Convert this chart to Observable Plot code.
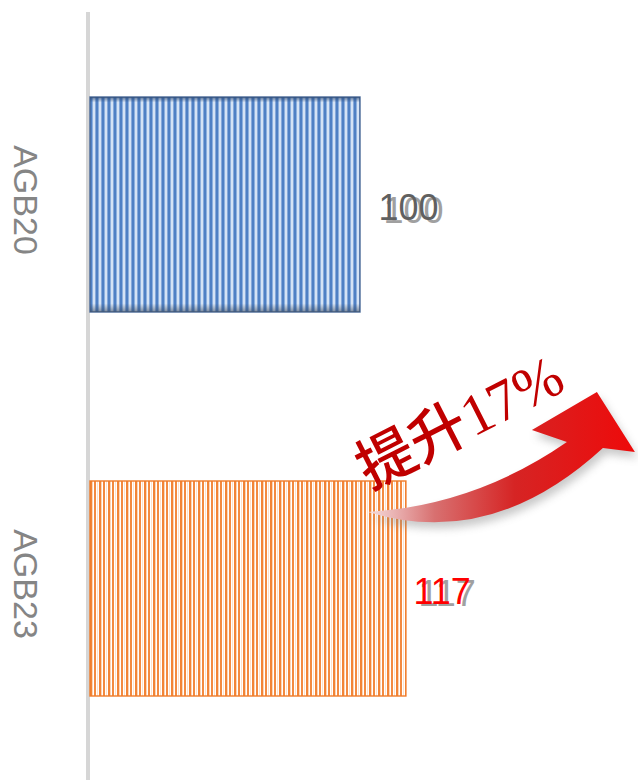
<!DOCTYPE html>
<html>
<head>
<meta charset="utf-8">
<script src="https://cdn.jsdelivr.net/npm/d3@7"></script>
<script src="https://cdn.jsdelivr.net/npm/@observablehq/plot@0.6"></script>
<style>
  html, body { margin: 0; padding: 0; background: #fff; }
  g[aria-label="shadow"] text { filter: blur(1.6px); }
  g[aria-label="arrow-shadow"] path { filter: blur(4px); }
</style>
</head>
<body>
<div id="chart"></div>
<script>
const categories = ["AGB20", "AGB23"];
const values = [100, 117];
const baseIndex = 0;
const growthPct = Math.round((values[1] / values[baseIndex] - 1) * 100);
const growthLabel = `提升${growthPct}%`;

const data = categories.map((c, i) => ({cat: c, value: values[i]}));

const defs = `
<defs>
  <pattern id="blueStripes" patternUnits="userSpaceOnUse" width="6" height="10">
    <rect x="0" y="0" width="2" height="10" fill="#4f80c4"/>
    <rect x="2" y="0" width="1" height="10" fill="#8db0de"/>
    <rect x="3" y="0" width="2" height="10" fill="#d5e3f5"/>
    <rect x="5" y="0" width="1" height="10" fill="#86a9da"/>
  </pattern>
  <pattern id="orangeStripes" patternUnits="userSpaceOnUse" width="9" height="10">
    <rect x="0" y="0" width="9" height="10" fill="#ffffff"/>
    <rect x="0" y="0" width="2" height="10" fill="#f28436"/>
    <rect x="2" y="0" width="1" height="10" fill="#fbd5b8"/>
    <rect x="4" y="0" width="2" height="10" fill="#f38a40"/>
    <rect x="7" y="0" width="1" height="10" fill="#fde2cd"/>
  </pattern>
  <linearGradient id="blueShade" x1="0" y1="0" x2="0" y2="1">
    <stop offset="0" stop-color="#2d4a75" stop-opacity="0.75"/>
    <stop offset="0.025" stop-color="#2d4a75" stop-opacity="0"/>
    <stop offset="0.96" stop-color="#3a4a60" stop-opacity="0"/>
    <stop offset="1" stop-color="#3a4a60" stop-opacity="0.6"/>
  </linearGradient>
  <linearGradient id="arrowGrad" x1="0" y1="0" x2="1" y2="0">
    <stop offset="0" stop-color="#f5dede"/>
    <stop offset="0.25" stop-color="#d87070"/>
    <stop offset="0.55" stop-color="#d62424"/>
    <stop offset="1" stop-color="#ee0a0a"/>
  </linearGradient>
</defs>`;

function arrowMark(shadow) {
  return (index, scales) => {
    const bx = scales.x(values[1]);
    const by = scales.y(categories[1]);
    const p = (dx, dy) => `${(bx + dx).toFixed(1)},${(by + dy).toFixed(1)}`;
    const d = `M${p(-38, 31)} Q${p(70, 24)} ${p(161, -39)} L${p(126, -51)} L${p(191, -89)} L${p(229, -29)} L${p(197, -33)} Q${p(86, 69)} ${p(-38, 31)} Z`;
    const g = document.createElementNS("http://www.w3.org/2000/svg", "g");
    g.setAttribute("aria-label", shadow ? "arrow-shadow" : "arrow");
    const path = document.createElementNS("http://www.w3.org/2000/svg", "path");
    path.setAttribute("d", d);
    if (shadow) {
      path.setAttribute("fill", "#888");
      path.setAttribute("opacity", "0.45");
      path.setAttribute("transform", "translate(3,6)");
    } else {
      path.setAttribute("fill", "url(#arrowGrad)");
    }
    g.appendChild(path);
    return g;
  };
}

const labelFont = "Liberation Sans, Arial, sans-serif";
const first = data.filter(d => d.cat === categories[0]);
const second = data.filter(d => d.cat === categories[1]);

const chart = Plot.plot({
  width: 638,
  height: 780,
  marginTop: 12,
  marginBottom: 0,
  marginLeft: 0,
  marginRight: 0,
  x: {domain: [0, 100], range: [90, 360], axis: null},
  y: {domain: categories, range: [12.25, 781.25], paddingInner: 0.441, paddingOuter: 0.2205, axis: null},
  color: {domain: categories, range: ["url(#blueStripes)", "url(#orangeStripes)"]},
  marks: [
    Plot.ruleX([0], {stroke: "#d6d6d6", strokeWidth: 4, dx: -2.5}),
    Plot.barX(data, {x: "value", y: "cat", fill: "cat",
      stroke: d => d.cat === categories[0] ? "#4a6a98" : "#f07c2a",
      strokeWidth: 1.4}),
    Plot.barX(first, {x: "value", y: "cat", fill: "url(#blueShade)"}),
    Plot.text(data, {y: "cat", text: "cat", frameAnchor: "left", textAnchor: "middle", dx: 24, dy: -5, rotate: 90,
      fontSize: 34, fill: "#858585", fontFamily: labelFont, lineAnchor: "middle"}),
    // value label shadows
    Plot.text(first, {x: "value", y: "cat", text: d => String(d.value),
      ariaLabel: "shadow", dx: 23, dy: 6, fill: "#a0a0a0", fontSize: 36, fontFamily: labelFont, textAnchor: "start"}),
    Plot.text(second, {x: "value", y: "cat", text: d => String(d.value),
      ariaLabel: "shadow", dx: 12, dy: 5, fill: "#a0a0a0", fontSize: 36, fontFamily: labelFont, textAnchor: "start"}),
    Plot.text(first, {x: "value", y: "cat", text: d => String(d.value),
      dx: 18, dy: 3, fill: "#606060", fontSize: 36, fontFamily: labelFont, textAnchor: "start"}),
    Plot.text(second, {x: "value", y: "cat", text: d => String(d.value),
      dx: 7, dy: 3, fill: "#ff0000", fontSize: 36, fontFamily: labelFont, textAnchor: "start"}),
    arrowMark(true),
    arrowMark(false),
    Plot.text([{value: values[1], cat: categories[1], label: growthLabel}], {x: "value", y: "cat", text: "label",
      dx: 54, dy: -166, rotate: -27, fill: "#c00000", fontSize: 58, fontWeight: 500,
      fontFamily: "Liberation Serif, Noto Sans CJK SC, serif"})
  ]
});

chart.insertAdjacentHTML("afterbegin", defs);
document.getElementById("chart").appendChild(chart);
</script>
</body>
</html>
